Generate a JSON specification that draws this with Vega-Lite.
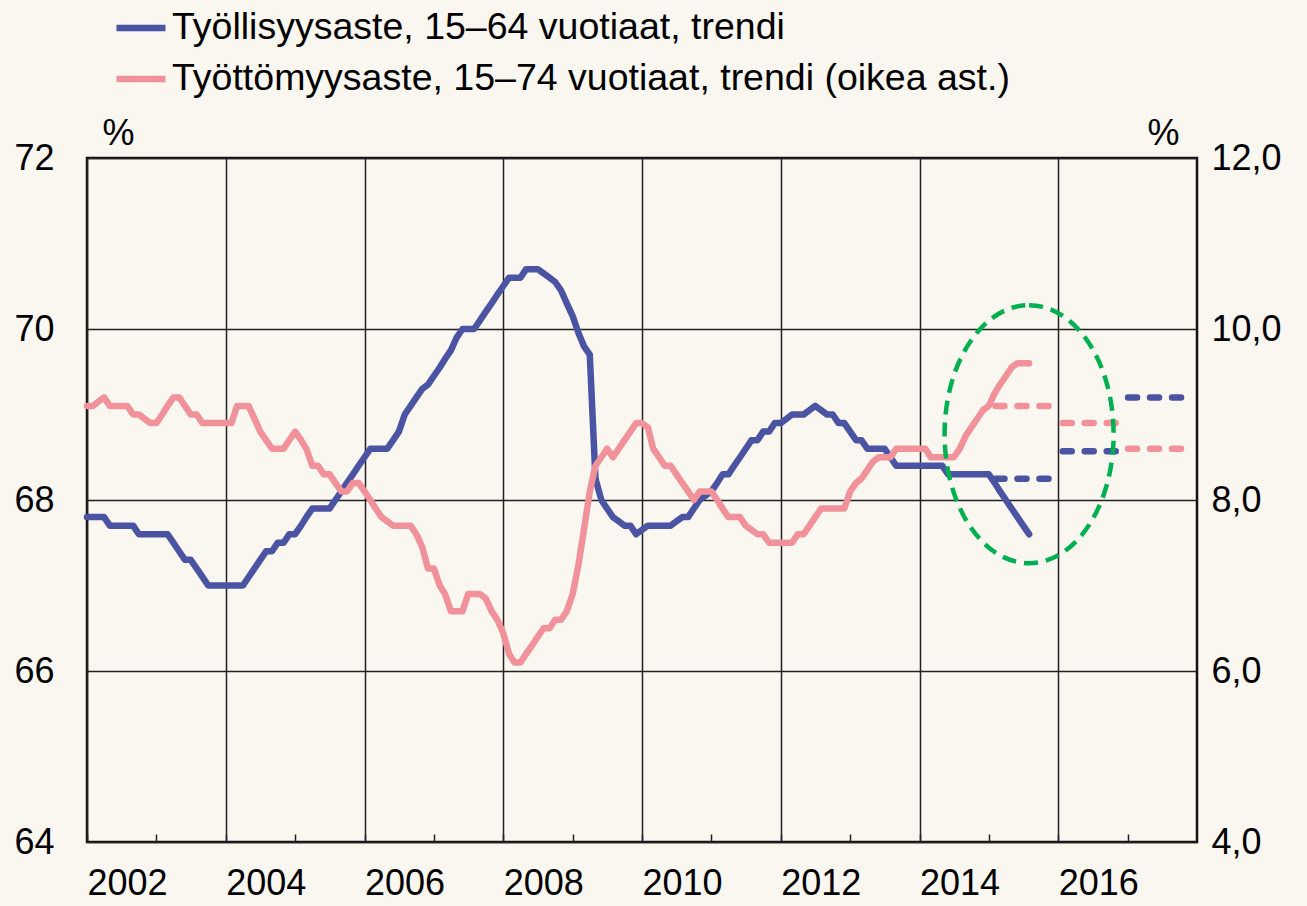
{
  "$schema": "https://vega.github.io/schema/vega-lite/v6.json",
  "width": 1110,
  "height": 684,
  "autosize": {"type": "none"},
  "padding": {"left": 87, "top": 158, "right": 110, "bottom": 64},
  "background": "#FAF6F0",
  "config": {
    "font": "Liberation Sans",
    "view": {"stroke": "#111111", "strokeWidth": 2.5},
    "axis": {
      "labelFont": "Liberation Sans", "labelFontSize": 36, "labelColor": "#000000",
      "titleFont": "Liberation Sans", "titleFontSize": 36, "titleFontWeight": "normal", "titleColor": "#000000",
      "domain": false, "ticks": false, "gridColor": "#222222", "gridWidth": 1.5, "gridOpacity": 1
    },
    "legend": {
      "labelFont": "Liberation Sans", "labelFontSize": 37.5, "labelColor": "#000000", "labelLimit": 0
    }
  },
  "datasets": {
    "monthly": [
      {"d":"2002-01","e":67.8,"u":9.1},{"d":"2002-02","e":67.8,"u":9.1},{"d":"2002-03","e":67.8,"u":9.15},{"d":"2002-04","e":67.8,"u":9.2},
      {"d":"2002-05","e":67.7,"u":9.1},{"d":"2002-06","e":67.7,"u":9.1},{"d":"2002-07","e":67.7,"u":9.1},{"d":"2002-08","e":67.7,"u":9.1},
      {"d":"2002-09","e":67.7,"u":9.0},{"d":"2002-10","e":67.6,"u":9.0},{"d":"2002-11","e":67.6,"u":8.95},{"d":"2002-12","e":67.6,"u":8.9},
      {"d":"2003-01","e":67.6,"u":8.9},{"d":"2003-02","e":67.6,"u":9.0},{"d":"2003-03","e":67.6,"u":9.1},{"d":"2003-04","e":67.5,"u":9.2},
      {"d":"2003-05","e":67.4,"u":9.2},{"d":"2003-06","e":67.3,"u":9.1},{"d":"2003-07","e":67.3,"u":9.0},{"d":"2003-08","e":67.2,"u":9.0},
      {"d":"2003-09","e":67.1,"u":8.9},{"d":"2003-10","e":67.0,"u":8.9},{"d":"2003-11","e":67.0,"u":8.9},{"d":"2003-12","e":67.0,"u":8.9},
      {"d":"2004-01","e":67.0,"u":8.9},{"d":"2004-02","e":67.0,"u":8.9},{"d":"2004-03","e":67.0,"u":9.1},{"d":"2004-04","e":67.0,"u":9.1},
      {"d":"2004-05","e":67.1,"u":9.1},{"d":"2004-06","e":67.2,"u":8.95},{"d":"2004-07","e":67.3,"u":8.8},{"d":"2004-08","e":67.4,"u":8.7},
      {"d":"2004-09","e":67.4,"u":8.6},{"d":"2004-10","e":67.5,"u":8.6},{"d":"2004-11","e":67.5,"u":8.6},{"d":"2004-12","e":67.6,"u":8.7},
      {"d":"2005-01","e":67.6,"u":8.8},{"d":"2005-02","e":67.7,"u":8.7},{"d":"2005-03","e":67.8,"u":8.6},{"d":"2005-04","e":67.9,"u":8.4},
      {"d":"2005-05","e":67.9,"u":8.4},{"d":"2005-06","e":67.9,"u":8.3},{"d":"2005-07","e":67.9,"u":8.3},{"d":"2005-08","e":68.0,"u":8.2},
      {"d":"2005-09","e":68.1,"u":8.1},{"d":"2005-10","e":68.2,"u":8.1},{"d":"2005-11","e":68.3,"u":8.2},{"d":"2005-12","e":68.4,"u":8.2},
      {"d":"2006-01","e":68.5,"u":8.1},{"d":"2006-02","e":68.6,"u":8.0},{"d":"2006-03","e":68.6,"u":7.9},{"d":"2006-04","e":68.6,"u":7.8},
      {"d":"2006-05","e":68.6,"u":7.75},{"d":"2006-06","e":68.7,"u":7.7},{"d":"2006-07","e":68.8,"u":7.7},{"d":"2006-08","e":69.0,"u":7.7},
      {"d":"2006-09","e":69.1,"u":7.7},{"d":"2006-10","e":69.2,"u":7.6},{"d":"2006-11","e":69.3,"u":7.45},{"d":"2006-12","e":69.35,"u":7.2},
      {"d":"2007-01","e":69.45,"u":7.2},{"d":"2007-02","e":69.55,"u":7.0},{"d":"2007-03","e":69.65,"u":6.9},{"d":"2007-04","e":69.75,"u":6.7},
      {"d":"2007-05","e":69.9,"u":6.7},{"d":"2007-06","e":70.0,"u":6.7},{"d":"2007-07","e":70.0,"u":6.9},{"d":"2007-08","e":70.0,"u":6.9},
      {"d":"2007-09","e":70.1,"u":6.9},{"d":"2007-10","e":70.2,"u":6.85},{"d":"2007-11","e":70.3,"u":6.7},{"d":"2007-12","e":70.4,"u":6.6},
      {"d":"2008-01","e":70.5,"u":6.45},{"d":"2008-02","e":70.6,"u":6.2},{"d":"2008-03","e":70.6,"u":6.1},{"d":"2008-04","e":70.6,"u":6.1},
      {"d":"2008-05","e":70.7,"u":6.2},{"d":"2008-06","e":70.7,"u":6.3},{"d":"2008-07","e":70.7,"u":6.4},{"d":"2008-08","e":70.65,"u":6.5},
      {"d":"2008-09","e":70.6,"u":6.5},{"d":"2008-10","e":70.55,"u":6.6},{"d":"2008-11","e":70.45,"u":6.6},{"d":"2008-12","e":70.3,"u":6.7},
      {"d":"2009-01","e":70.15,"u":6.9},{"d":"2009-02","e":69.95,"u":7.25},{"d":"2009-03","e":69.8,"u":7.65},{"d":"2009-04","e":69.7,"u":8.1},
      {"d":"2009-05","e":68.25,"u":8.4},{"d":"2009-06","e":68.0,"u":8.5},{"d":"2009-07","e":67.9,"u":8.6},{"d":"2009-08","e":67.8,"u":8.5},
      {"d":"2009-09","e":67.75,"u":8.6},{"d":"2009-10","e":67.7,"u":8.7},{"d":"2009-11","e":67.7,"u":8.8},{"d":"2009-12","e":67.6,"u":8.9},
      {"d":"2010-01","e":67.65,"u":8.9},{"d":"2010-02","e":67.7,"u":8.85},{"d":"2010-03","e":67.7,"u":8.6},{"d":"2010-04","e":67.7,"u":8.5},
      {"d":"2010-05","e":67.7,"u":8.4},{"d":"2010-06","e":67.7,"u":8.4},{"d":"2010-07","e":67.75,"u":8.3},{"d":"2010-08","e":67.8,"u":8.2},
      {"d":"2010-09","e":67.8,"u":8.1},{"d":"2010-10","e":67.9,"u":8.0},{"d":"2010-11","e":68.0,"u":8.1},{"d":"2010-12","e":68.05,"u":8.1},
      {"d":"2011-01","e":68.1,"u":8.1},{"d":"2011-02","e":68.2,"u":8.0},{"d":"2011-03","e":68.3,"u":7.9},{"d":"2011-04","e":68.3,"u":7.8},
      {"d":"2011-05","e":68.4,"u":7.8},{"d":"2011-06","e":68.5,"u":7.8},{"d":"2011-07","e":68.6,"u":7.7},{"d":"2011-08","e":68.7,"u":7.65},
      {"d":"2011-09","e":68.7,"u":7.6},{"d":"2011-10","e":68.8,"u":7.6},{"d":"2011-11","e":68.8,"u":7.5},{"d":"2011-12","e":68.9,"u":7.5},
      {"d":"2012-01","e":68.9,"u":7.5},{"d":"2012-02","e":68.95,"u":7.5},{"d":"2012-03","e":69.0,"u":7.5},{"d":"2012-04","e":69.0,"u":7.6},
      {"d":"2012-05","e":69.0,"u":7.6},{"d":"2012-06","e":69.05,"u":7.7},{"d":"2012-07","e":69.1,"u":7.8},{"d":"2012-08","e":69.05,"u":7.9},
      {"d":"2012-09","e":69.0,"u":7.9},{"d":"2012-10","e":69.0,"u":7.9},{"d":"2012-11","e":68.9,"u":7.9},{"d":"2012-12","e":68.9,"u":7.9},
      {"d":"2013-01","e":68.8,"u":8.1},{"d":"2013-02","e":68.7,"u":8.2},{"d":"2013-03","e":68.7,"u":8.25},{"d":"2013-04","e":68.6,"u":8.35},
      {"d":"2013-05","e":68.6,"u":8.45},{"d":"2013-06","e":68.6,"u":8.5},{"d":"2013-07","e":68.6,"u":8.5},{"d":"2013-08","e":68.5,"u":8.5},
      {"d":"2013-09","e":68.4,"u":8.6},{"d":"2013-10","e":68.4,"u":8.6},{"d":"2013-11","e":68.4,"u":8.6},{"d":"2013-12","e":68.4,"u":8.6},
      {"d":"2014-01","e":68.4,"u":8.6},{"d":"2014-02","e":68.4,"u":8.6},{"d":"2014-03","e":68.4,"u":8.5},{"d":"2014-04","e":68.4,"u":8.5},
      {"d":"2014-05","e":68.4,"u":8.5},{"d":"2014-06","e":68.3,"u":8.5},{"d":"2014-07","e":68.3,"u":8.5},{"d":"2014-08","e":68.3,"u":8.6},
      {"d":"2014-09","e":68.3,"u":8.75},{"d":"2014-10","e":68.3,"u":8.85},{"d":"2014-11","e":68.3,"u":8.95},{"d":"2014-12","e":68.3,"u":9.05},
      {"d":"2015-01","e":68.3,"u":9.1},{"d":"2015-02","e":68.2,"u":9.25},{"d":"2015-03","e":68.1,"u":9.35},{"d":"2015-04","e":68.0,"u":9.45},
      {"d":"2015-05","e":67.9,"u":9.55},{"d":"2015-06","e":67.8,"u":9.6},{"d":"2015-07","e":67.7,"u":9.6},{"d":"2015-08","e":67.6,"u":9.6}
    ],
    "forecast": [
      {"start":"2015-02-05","end":"2015-11-15","e":68.25,"u":9.1},
      {"start":"2016-01-25","end":"2016-11-15","e":68.57,"u":8.9},
      {"start":"2017-01-03","end":"2017-10-12","e":69.2,"u":8.6}
    ],
    "ellipse": [
      {"x":"2015-08-01","y":8.77}
    ]
  },
  "layer": [
    {
      "layer": [
        {
          "data": {"name": "monthly"},
          "mark": {"type": "line", "strokeWidth": 6.5, "strokeCap": "round", "strokeJoin": "round"},
          "encoding": {
            "x": {
              "field": "d", "type": "temporal",
              "scale": {"type": "utc", "domain": [{"year": 2002, "utc": true}, {"year": 2018, "utc": true}]},
              "axis": {
                "title": null,
                "values": [{"year":2002,"utc":true},{"year":2003,"utc":true},{"year":2004,"utc":true},{"year":2005,"utc":true},{"year":2006,"utc":true},{"year":2007,"utc":true},{"year":2008,"utc":true},{"year":2009,"utc":true},{"year":2010,"utc":true},{"year":2011,"utc":true},{"year":2012,"utc":true},{"year":2013,"utc":true},{"year":2014,"utc":true},{"year":2015,"utc":true},{"year":2016,"utc":true},{"year":2017,"utc":true}],
                "labelExpr": "utcyear(datum.value) % 2 === 0 ? utcFormat(datum.value, '%Y') : ''",
                "labelAlign": "left", "labelBaseline": "top", "labelPadding": 32,
                "labelFlush": false, "labelOverlap": false,
                "ticks": true, "tickSize": -8, "tickColor": "#222222", "tickWidth": 1.5,
                "grid": true,
                "gridOpacity": {"condition": {"test": "utcyear(datum.value) % 2 === 1", "value": 0}, "value": 1}
              }
            },
            "y": {
              "field": "e", "type": "quantitative",
              "scale": {"domain": [64, 72], "nice": false, "zero": false},
              "axis": {
                "values": [64, 66, 68, 70, 72], "format": "d", "labelPadding": 33, "grid": true,
                "title": "%", "titleAngle": 0, "titleX": 31, "titleY": -25,
                "titleAlign": "center", "titleBaseline": "middle"
              }
            },
            "color": {
              "datum": "Työllisyysaste, 15–64 vuotiaat, trendi",
              "type": "nominal",
              "scale": {
                "domain": ["Työllisyysaste, 15–64 vuotiaat, trendi", "Työttömyysaste, 15–74 vuotiaat, trendi (oikea ast.)"],
                "range": ["#4B53A3", "#F1929A"]
              },
              "legend": {
                "orient": "none", "legendX": 26, "legendY": -158, "direction": "vertical", "title": null,
                "symbolType": "stroke", "symbolSize": 2400, "symbolStrokeWidth": 6.5,
                "labelOffset": 3, "rowPadding": 4
              }
            }
          }
        },
        {
          "data": {"name": "forecast"},
          "mark": {"type": "rule", "strokeWidth": 6.5, "strokeDash": [9, 13], "strokeCap": "round", "color": "#4B53A3"},
          "encoding": {
            "x": {"field": "start", "type": "temporal"},
            "x2": {"field": "end"},
            "y": {"field": "e", "type": "quantitative"}
          }
        }
      ]
    },
    {
      "layer": [
        {
          "data": {"name": "monthly"},
          "mark": {"type": "line", "strokeWidth": 6.5, "strokeCap": "round", "strokeJoin": "round"},
          "encoding": {
            "x": {"field": "d", "type": "temporal"},
            "y": {
              "field": "u", "type": "quantitative",
              "scale": {"domain": [4, 12], "nice": false, "zero": false},
              "axis": {
                "orient": "right", "values": [4, 6, 8, 10, 12],
                "labelExpr": "replace(format(datum.value, '.1f'), '.', ',')",
                "labelPadding": 14, "grid": false,
                "title": "%", "titleAngle": 0, "titleX": -34, "titleY": -25,
                "titleAlign": "center", "titleBaseline": "middle"
              }
            },
            "color": {"datum": "Työttömyysaste, 15–74 vuotiaat, trendi (oikea ast.)", "type": "nominal"}
          }
        },
        {
          "data": {"name": "forecast"},
          "mark": {"type": "rule", "strokeWidth": 6.5, "strokeDash": [9, 13], "strokeCap": "round", "color": "#F1929A"},
          "encoding": {
            "x": {"field": "start", "type": "temporal"},
            "x2": {"field": "end"},
            "y": {"field": "u", "type": "quantitative"}
          }
        },
        {
          "data": {"name": "ellipse"},
          "mark": {
            "type": "point",
            "shape": "M0,-1C0.3618,-1,0.655,-0.5523,0.655,0C0.655,0.5523,0.3618,1,0,1C-0.3618,1,-0.655,0.5523,-0.655,0C-0.655,-0.5523,-0.3618,-1,0,-1Z",
            "size": 66564, "filled": false, "stroke": "#00B050", "strokeWidth": 4.5,
            "strokeDash": [14, 8], "opacity": 1
          },
          "encoding": {
            "x": {"field": "x", "type": "temporal"},
            "y": {"field": "y", "type": "quantitative"}
          }
        }
      ]
    }
  ],
  "resolve": {"scale": {"y": "independent"}}
}
